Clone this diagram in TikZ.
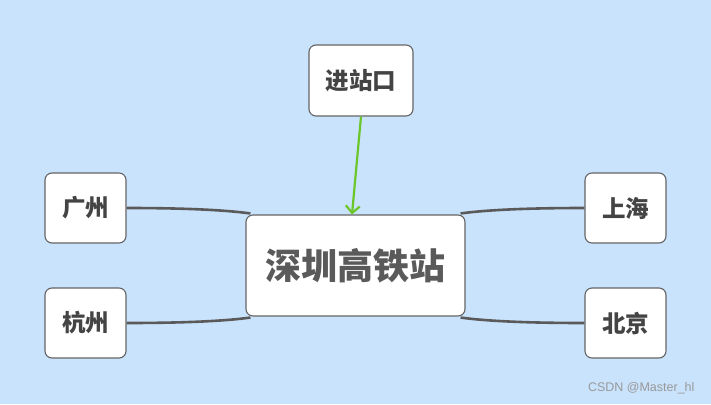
\documentclass[tikz,border=0pt]{standalone}
\usepackage{fontspec}
\newfontfamily\cjk{Noto Sans CJK SC}
\setmainfont{Liberation Sans}
\usetikzlibrary{arrows.meta}
\pgfdeclarelayer{bg}
\pgfsetlayers{bg,main}
\definecolor{bgblue}{RGB}{201,227,253}
\definecolor{boxline}{RGB}{100,100,100}
\definecolor{txtgrey}{RGB}{68,68,68}
\definecolor{linkgrey}{RGB}{90,90,90}
\definecolor{arrowgreen}{RGB}{108,198,42}
\tikzset{
  city/.style={draw=boxline,line width=1.1pt,fill=white,rounded corners=7pt,
    minimum width=81pt,minimum height=70pt,text=txtgrey,
    font=\cjk\bfseries\fontsize{23.5}{23.5}\selectfont},
  link/.style={draw=linkgrey,line width=2.6pt}
}
\begin{document}
\begin{tikzpicture}[x=1pt,y=-1pt]
        % 背景
        \useasboundingbox (0,0) rectangle (711,404);
        
        % 中心
        \node[city,minimum width=219pt,minimum height=101pt,text=linkgrey,
          font=\cjk\bfseries\fontsize{36}{36}\selectfont] (zx) at (355.5,265.5) {深圳高铁站};
        
        % 四个城市
        \node[city] (gz) at (85.5,208) {广州};
        \node[city] (hz) at (85.5,323) {杭州};
        \node[city] (sh) at (625.5,208) {上海};
        \node[city] (bj) at (625.5,323) {北京};
        
        % 进站口
        \node[city,minimum width=104pt,minimum height=71pt] (jz) at (361,80.5) {进站口};
        
        % 连线
        \begin{pgfonlayer}{bg}
        \fill[bgblue] (0,0) rectangle (711,404);
        \draw[link] (gz.east) .. controls (185,208) and (225,210) .. ([xshift=5pt,yshift=1pt]zx.north west);
        \draw[link] (hz.east) .. controls (185,323) and (225,321) .. ([xshift=5pt,yshift=-1pt]zx.south west);
        \draw[link] (sh.west) .. controls (526,208) and (486,210) .. ([xshift=-5pt,yshift=1pt]zx.north east);
        \draw[link] (bj.west) .. controls (526,323) and (486,321) .. ([xshift=-5pt,yshift=-1pt]zx.south east);
        \end{pgfonlayer}
        
        % 箭头
        \draw[arrowgreen,line width=2.2pt,-{Straight Barb[length=7pt,width=14pt]}]
          (jz.south) -- ([xshift=-3.5pt]zx.north);
        
        % 水印
        \node[text=black!40,font=\fontsize{12.5}{12.5}\selectfont,anchor=east] (wm) at (698,388) {CSDN @Master\_hl};
    \end{tikzpicture}
\end{document}
